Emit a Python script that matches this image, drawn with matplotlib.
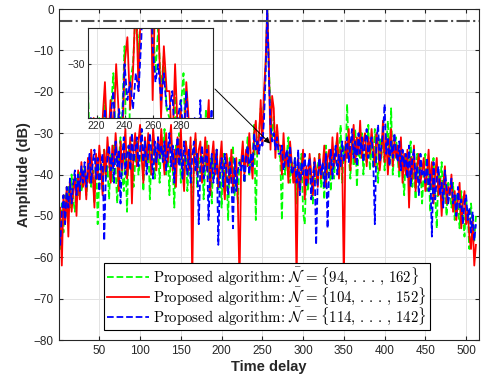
import numpy as np
import matplotlib
matplotlib.use("Agg")
import matplotlib.pyplot as plt

plt.rcParams['mathtext.fontset'] = 'cm'
plt.rcParams['font.family'] = ['Liberation Sans', 'DejaVu Sans']

# Time delay samples (every 2nd sample, 0..512)
delay = np.arange(0, 513, 2)

green_vals = [
    -52, -58, -47, -54, -45, -50, -43, -48, -40, -46, -49, -41, -45, -39, -44, -42,
    -38, -45, -41, -36, -43, -39, -47, -35, -52, -40, -37, -44, -34, -41, -38, -46,
    -35, -42, -33, -39, -47, -36, -31, -40, -44, -35, -49, -33, -38, -30, -43, -37,
    -32, -40, -36, -29, -44, -34, -38, -31, -46, -35, -30, -41, -37, -33, -42, -31,
    -36, -29, -40, -34, -45, -31, -38, -48, -33, -37, -30, -42, -35, -39, -32, -44,
    -37, -33, -50, -39, -31, -43, -36, -40, -34, -46, -38, -32, -41, -36, -47, -35,
    -39, -34, -44, -37, -48, -35, -42, -38, -51, -36, -41, -33, -45, -39, -47, -36,
    -38, -34, -42, -36, -31, -40, -35, -37, -28, -51, -32, -30, -24, -29, -22, -14,
    0, -14, -24, -31, -26, -33, -29, -35, -36, -51, -33, -40, -35, -31, -42, -37,
    -41, -36, -47, -38, -43, -35, -49, -52, -39, -44, -36, -41, -47, -37, -42, -38,
    -35, -43, -39, -46, -33, -40, -37, -44, -36, -41, -34, -31, -39, -28, -42, -33,
    -37, -23, -35, -41, -31, -38, -29, -43, -34, -36, -30, -40, -33, -37, -28, -39,
    -32, -38, -29, -35, -42, -31, -36, -30, -39, -33, -27, -37, -24, -40, -34, -31,
    -36, -41, -33, -39, -45, -35, -40, -37, -32, -43, -38, -46, -35, -42, -38, -47,
    -39, -35, -44, -38, -49, -40, -36, -45, -53, -39, -43, -37, -47, -41, -50, -42,
    -44, -48, -42, -51, -45, -47, -53, -44, -49, -55, -46, -50, -58, -47, -52, -56,
    -50,
]

red_vals = [
    -54, -48, -62, -45, -52, -43, -55, -41, -49, -44, -40, -50, -39, -46, -37, -43,
    -39, -46, -36, -42, -34, -40, -48, -35, -41, -33, -38, -45, -34, -40, -31, -37,
    -42, -33, -38, -30, -36, -44, -32, -39, -35, -29, -41, -37, -31, -47, -34, -30,
    -38, -32, -28, -36, -42, -31, -37, -30, -35, -40, -29, -34, -39, -31, -36, -29,
    -35, -40, -30, -37, -33, -28, -39, -34, -43, -31, -36, -29, -38, -44, -32, -35,
    -39, -31, -66, -36, -30, -40, -34, -32, -42, -37, -31, -39, -33, -45, -36, -32,
    -40, -34, -43, -37, -32, -41, -46, -35, -38, -42, -34, -44, -39, -36, -47, -66,
    -37, -32, -40, -34, -38, -30, -36, -41, -30, -27, -35, -31, -22, -33, -20, -13,
    0, -13, -34, -21, -24, -36, -28, -33, -33, -40, -30, -38, -35, -42, -32, -37,
    -42, -37, -66, -36, -44, -39, -34, -46, -38, -42, -35, -40, -45, -36, -39, -43,
    -35, -41, -38, -33, -43, -36, -34, -40, -31, -38, -35, -30, -41, -34, -37, -66,
    -32, -36, -29, -39, -33, -28, -37, -31, -35, -27, -36, -32, -30, -38, -31, -35,
    -29, -34, -38, -30, -33, -39, -35, -27, -37, -31, -40, -33, -29, -38, -32, -36,
    -33, -39, -31, -42, -35, -40, -34, -48, -36, -41, -33, -44, -38, -35, -42, -39,
    -36, -44, -40, -34, -43, -37, -47, -40, -36, -45, -41, -50, -42, -38, -47, -43,
    -45, -40, -49, -44, -51, -46, -42, -53, -47, -44, -52, -49, -55, -58, -51, -62,
    -57,
]

blue_vals = [
    -52, -57, -49, -45, -52, -43, -48, -41, -47, -42, -39, -45, -40, -44, -38, -42,
    -37, -43, -39, -35, -42, -37, -34, -41, -36, -44, -38, -35, -56, -40, -36, -33,
    -39, -35, -42, -32, -38, -34, -47, -36, -31, -40, -35, -33, -39, -30, -37, -34,
    -31, -38, -34, -29, -37, -32, -40, -35, -30, -35, -41, -32, -37, -31, -36, -33,
    -37, -32, -39, -34, -30, -38, -33, -42, -35, -31, -38, -34, -41, -32, -37, -40,
    -34, -42, -36, -32, -39, -35, -52, -38, -33, -41, -36, -34, -51, -39, -35, -42,
    -38, -34, -57, -40, -36, -43, -35, -39, -45, -37, -41, -53, -36, -44, -39, -37,
    -39, -35, -42, -36, -33, -40, -35, -38, -30, -34, -32, -35, -31, -33, -27, -16,
    0, -16, -28, -32, -30, -34, -31, -35, -35, -33, -39, -36, -34, -38, -33, -40,
    -39, -36, -42, -34, -45, -37, -40, -35, -43, -38, -36, -46, -40, -37, -57, -41,
    -36, -40, -37, -43, -35, -53, -38, -34, -41, -36, -33, -40, -35, -38, -32, -37,
    -34, -31, -37, -33, -29, -36, -32, -38, -30, -35, -31, -37, -32, -29, -36, -33,
    -31, -36, -52, -32, -28, -37, -33, -30, -23, -35, -31, -38, -32, -36, -30, -34,
    -37, -32, -39, -34, -38, -35, -41, -33, -43, -36, -34, -41, -38, -45, -35, -40,
    -39, -42, -36, -44, -40, -55, -37, -46, -41, -38, -45, -42, -48, -39, -43, -47,
    -44, -41, -47, -45, -50, -43, -48, -46, -52, -47, -45, -51, -48, -54, -49, -56,
    -52,
]

threshold_db = -3
labels = [
    r'$\mathrm{Proposed\ algorithm}\!:\,\bar{\mathcal{N}}\, = \{94,\,.\,.\,.\,,\,162\}$',
    r'$\mathrm{Proposed\ algorithm}\!:\,\bar{\mathcal{N}}\, = \{104,\,.\,.\,.\,,\,152\}$',
    r'$\mathrm{Proposed\ algorithm}\!:\,\bar{\mathcal{N}}\, = \{114,\,.\,.\,.\,,\,142\}$',
]
colors = ['#00ff00', '#ff0000', '#0000ff']
styles = ['--', '-', '--']
series = [green_vals, red_vals, blue_vals]

fig = plt.figure(figsize=(4.84, 3.87), dpi=100)
ax = fig.add_axes([0.121, 0.1214, 0.869, 0.8553])

lines = []
for vals, c, ls, lab in zip(series, colors, styles, labels):
    l, = ax.plot(delay, vals, color=c, linestyle=ls, lw=1.3, label=lab)
    lines.append(l)
ax.axhline(threshold_db, color='#4d4d4d', linestyle='-.', lw=1.5)

ax.set_xlim(0, 516)
ax.set_ylim(-80, 0)
ax.set_xticks(np.arange(50, 501, 50))
ax.set_yticks(np.arange(-80, 1, 10))
ax.grid(True, color='#e3e3e3', lw=0.7)
ax.set_axisbelow(True)
ax.tick_params(direction='in', length=3, labelsize=8.5, colors='#262626', top=True, right=True,
               labeltop=False, labelright=False)
for s in ax.spines.values():
    s.set_color('#262626')
    s.set_linewidth(0.8)
ax.set_xlabel('Time delay', fontsize=10.5, fontweight='bold', color='#262626', labelpad=2)
ax.set_ylabel('Amplitude (dB)', fontsize=10.5, fontweight='bold', color='#262626', labelpad=2)

leg = ax.legend(handles=lines, loc='lower left', bbox_to_anchor=(0.108, 0.030), borderaxespad=0,
                fontsize=10.7, fancybox=False, framealpha=1, edgecolor='k', handlelength=2.8,
                handletextpad=0.3, labelspacing=-0.1, borderpad=0.2)
leg.get_frame().set_linewidth(0.8)

ax.annotate('', xy=(262, -33), xytext=(0.44, 0.775), textcoords='figure fraction',
            xycoords='data',
            arrowprops=dict(arrowstyle='-|>', color='k', lw=0.7, mutation_scale=9))

ins = fig.add_axes([0.182, 0.695, 0.258, 0.232])
for vals, c, ls in zip(series, colors, styles):
    ins.plot(delay, vals, color=c, linestyle=ls, lw=1.3)
ins.set_xlim(214, 303)
ins.set_ylim(-36, -26)
ins.set_xticks([220, 240, 260, 280])
ins.set_yticks([-30])
ins.grid(True, color='#e3e3e3', lw=0.7)
ins.set_axisbelow(True)
ins.tick_params(direction='in', length=2, labelsize=7.5, colors='#262626', pad=2)
for s in ins.spines.values():
    s.set_color('#262626')
    s.set_linewidth(0.8)

fig.savefig('out.png', dpi=100)
